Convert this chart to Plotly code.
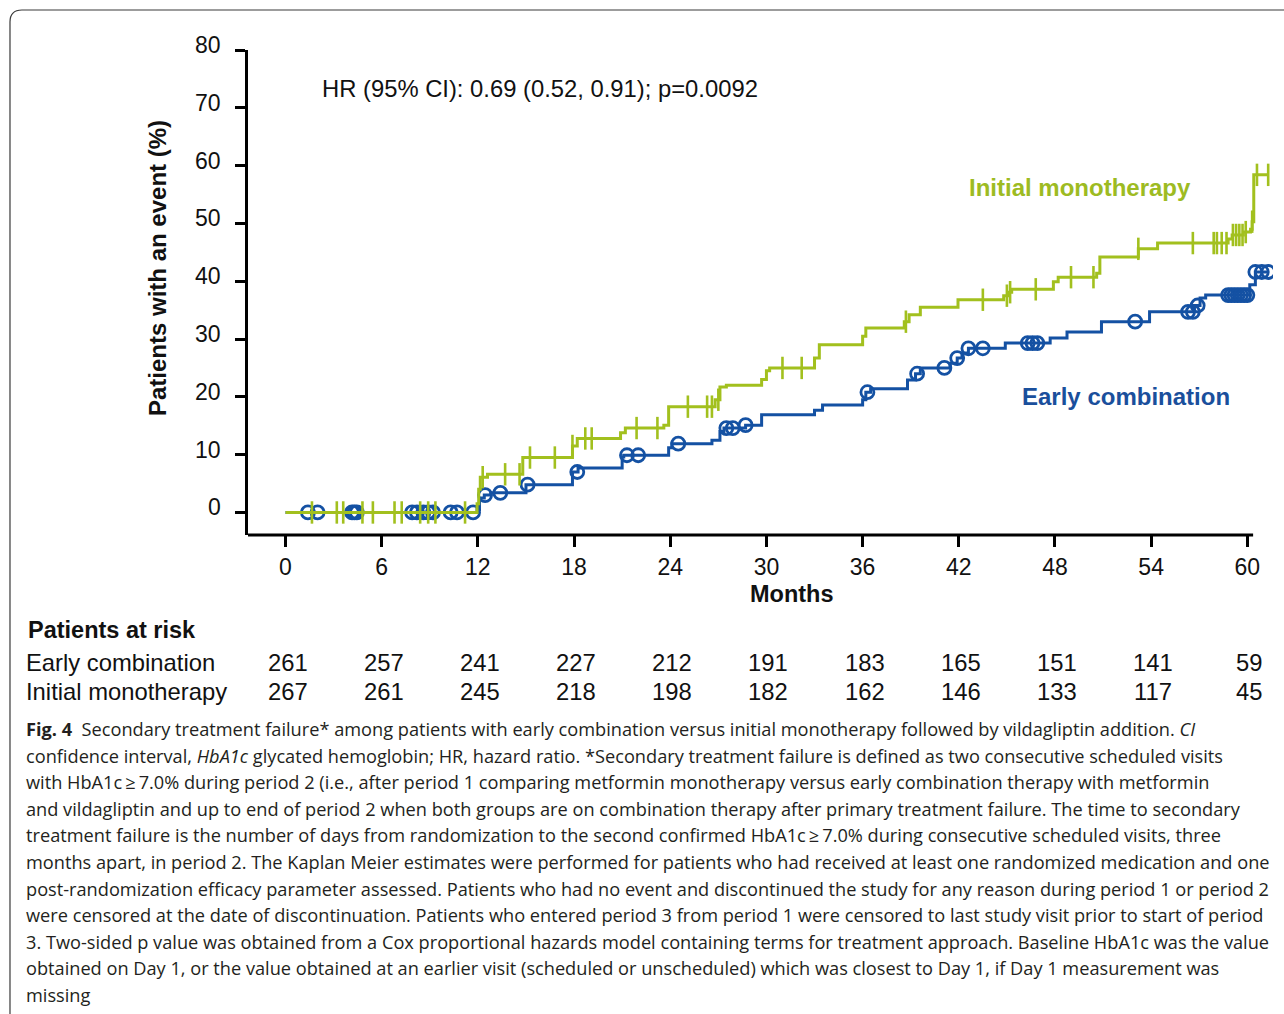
import plotly.graph_objects as go

# ---- data -------------------------------------------------------------
month_ticks = list(range(0, 61, 6))
pct_ticks = list(range(0, 81, 10))

# Kaplan-Meier step curves: event times (months) and cumulative % with an event
early_t = [0, 11.95, 12.1, 12.4, 12.8, 15.0, 17.9, 18.25, 21.0, 21.1, 23.9, 24.1,
           26.6, 27.1, 27.35, 28.7, 29.7, 33.0, 33.5, 36.0, 36.2, 36.5, 38.8, 39.3,
           39.6, 41.45, 41.9, 42.2, 42.6, 44.9, 47.7, 48.75, 50.9, 53.9, 56.7, 57.05,
           57.4, 60.15, 60.5]
early_pct = [0, 0.5, 2.5, 3.0, 3.4, 4.8, 7.0, 7.7, 9.6, 9.9, 11.2, 11.9,
             12.5, 14.0, 14.6, 15.1, 16.9, 17.7, 18.6, 19.5, 20.8, 21.4, 22.9, 24.0,
             25.0, 25.8, 26.7, 27.6, 28.4, 29.3, 30.2, 31.2, 33.0, 34.7, 35.8, 37.1,
             37.6, 39.4, 41.6]
early_censor = [1.4, 2.0, 4.15, 4.3, 4.45, 7.9, 8.2, 8.6, 8.9, 9.2, 10.3, 10.7, 11.7,
                12.45, 13.4, 15.1, 18.2, 21.3, 22.0, 24.5, 27.5, 27.9, 28.7, 36.3,
                39.4, 41.1, 41.9, 42.6, 43.5, 46.3, 46.6, 46.9, 53.0, 56.3, 56.6, 56.9,
                58.8, 59.0, 59.2, 59.4, 59.6, 59.8, 60.0, 60.5, 60.9, 61.3]

mono_t = [0, 11.95, 12.05, 12.15, 12.6, 14.8, 17.9, 18.2, 20.9, 21.2, 23.6, 23.9,
          26.8, 27.1, 27.5, 29.7, 30.0, 30.2, 33.0, 33.3, 36.0, 36.2, 38.6, 38.9,
          39.6, 41.95, 44.8, 45.1, 45.3, 47.9, 48.2, 50.6, 50.8, 53.2, 54.4, 58.8,
          59.05, 59.75, 60.2, 60.3, 60.4]
mono_pct = [0, 1.5, 4.0, 6.1, 6.6, 9.5, 11.5, 12.8, 13.8, 14.6, 15.1, 18.3,
            19.5, 21.7, 22.0, 23.0, 24.5, 25.0, 26.7, 29.0, 30.5, 31.9, 33.0, 34.2,
            35.5, 36.8, 37.5, 38.1, 38.6, 39.9, 40.7, 41.4, 44.2, 45.6, 46.6, 47.3,
            48.0, 48.5, 49.0, 50.3, 58.4]
mono_censor = [1.65, 3.2, 3.6, 4.8, 5.45, 6.8, 7.25, 8.4, 8.9, 9.35, 11.2, 12.3,
               13.7, 14.6, 15.25, 16.8, 17.9, 18.7, 19.1, 21.9, 23.2, 25.1, 26.3,
               26.6, 27.0, 31.0, 32.2, 38.7, 43.5, 45.0, 45.2, 46.8, 49.0, 50.4,
               53.2, 56.6, 57.9, 58.1, 58.4, 58.7, 59.1, 59.3, 59.5, 59.7, 59.9,
               60.3, 60.6, 61.3]

risk_early = [261, 257, 241, 227, 212, 191, 183, 165, 151, 141, 59]
risk_mono = [267, 261, 245, 218, 198, 182, 162, 146, 133, 117, 45]

caption_lines = [
    "<b>Fig. 4</b>  Secondary treatment failure* among patients with early combination versus initial monotherapy followed by vildagliptin addition. <i>CI</i>",
    "confidence interval, <i>HbA1c</i> glycated hemoglobin; HR, hazard ratio. *Secondary treatment failure is defined as two consecutive scheduled visits",
    "with HbA1c\u2009\u2265\u20097.0% during period 2 (i.e., after period 1 comparing metformin monotherapy versus early combination therapy with metformin",
    "and vildagliptin and up to end of period 2 when both groups are on combination therapy after primary treatment failure. The time to secondary",
    "treatment failure is the number of days from randomization to the second confirmed HbA1c\u2009\u2265\u20097.0% during consecutive scheduled visits, three",
    "months apart, in period 2. The Kaplan Meier estimates were performed for patients who had received at least one randomized medication and one",
    "post-randomization efficacy parameter assessed. Patients who had no event and discontinued the study for any reason during period 1 or period 2",
    "were censored at the date of discontinuation. Patients who entered period 3 from period 1 were censored to last study visit prior to start of period",
    "3. Two-sided p value was obtained from a Cox proportional hazards model containing terms for treatment approach. Baseline HbA1c was the value",
    "obtained on Day 1, or the value obtained at an earlier visit (scheduled or unscheduled) which was closest to Day 1, if Day 1 measurement was",
    "missing",
]

# ---- styling ----------------------------------------------------------
GREEN = "#a2c01e"
BLUE = "#1451a3"
FONT = "Liberation Sans, Arial, sans-serif"
INK = "#111"

W, H = 1284, 1014
L, T, B = 248, 50, 535          # plot-area edges in pixels
X_RANGE = [-2.34, 61.6]
X_AXIS_END = 60.36
Y_RANGE = [-3.9, 80]
PX_PER_MONTH = 16.03
R = L + (X_RANGE[1] - X_RANGE[0]) * PX_PER_MONTH


def px(x, y):
    """pixel position -> paper coordinates"""
    return (x - L) / (R - L), (B - y) / (B - T)


def step_value(times, values, t):
    v = values[0]
    for ti, vi in zip(times, values):
        if ti <= t:
            v = vi
    return v


def curve(times, values, end):
    return times + [end], values + [values[-1]]


fig = go.Figure()

# early combination (drawn first, monotherapy sits above it)
ex, ey = curve(early_t, early_pct, max(early_censor))
fig.add_trace(go.Scatter(x=ex, y=ey, mode="lines", line=dict(color=BLUE, width=3, shape="hv"),
                         hoverinfo="skip"))
fig.add_trace(go.Scatter(x=early_censor, y=[step_value(early_t, early_pct, t) for t in early_censor],
                         mode="markers",
                         marker=dict(symbol="circle-open", size=13, color=BLUE, line=dict(width=2.8, color=BLUE)),
                         hoverinfo="skip"))

mx, my = curve(mono_t, mono_pct, max(mono_censor))
fig.add_trace(go.Scatter(x=mx, y=my, mode="lines", line=dict(color=GREEN, width=3, shape="hv"),
                         hoverinfo="skip"))
fig.add_trace(go.Scatter(x=mono_censor, y=[step_value(mono_t, mono_pct, t) for t in mono_censor],
                         mode="markers",
                         marker=dict(symbol="line-ns-open", size=16, color=GREEN, line=dict(width=2.6, color=GREEN)),
                         hoverinfo="skip"))

fig.update_xaxes(range=X_RANGE, tickvals=month_ticks, ticks="outside", ticklen=11, tickwidth=3,
                 tickcolor="black", showgrid=False, zeroline=False, showline=False,
                 tickfont=dict(family=FONT, size=23, color=INK), ticklabelstandoff=0)
fig.update_yaxes(range=Y_RANGE, tickvals=pct_ticks, ticks="outside", ticklen=10, tickwidth=3,
                 tickcolor="black", showgrid=False, zeroline=False, showline=True, linewidth=3,
                 linecolor="black", showticklabels=False)

shapes = [
    # x axis line, stopping at the end of follow-up
    dict(type="line", xref="x", yref="paper", x0=X_RANGE[0], x1=X_AXIS_END, y0=0, y1=0,
         line=dict(color="black", width=3)),
]
# rounded frame around the figure panel
p0 = px(10, H)
p1 = px(10, 22)
pc = px(10, 10)
p2 = px(22, 10)
p3 = px(W + 5, 10)
shapes.append(dict(type="path", xref="paper", yref="paper",
                   path=f"M {p0[0]},{p0[1]} L {p1[0]},{p1[1]} Q {pc[0]},{pc[1]} {p2[0]},{p2[1]} L {p3[0]},{p3[1]}",
                   line=dict(color="#3a3a3a", width=1.2)))

ann = []

# y tick labels, sitting slightly above their ticks
for v in pct_ticks:
    ann.append(dict(xref="paper", yref="y", x=px(223, 0)[0], y=v, text=str(v), showarrow=False,
                    xanchor="right", yanchor="middle", yshift=5,
                    font=dict(family=FONT, size=23, color=INK)))


def text(x, y, s, size=24, color=INK, xanchor="center", bold=False, font=FONT, angle=0):
    ax, ay = px(x, y)
    ann.append(dict(xref="paper", yref="paper", x=ax, y=ay, text=f"<b>{s}</b>" if bold else s,
                    showarrow=False, xanchor=xanchor, yanchor="middle", textangle=angle,
                    font=dict(family=font, size=size, color=color)))


text(157, 268, "Patients with an event (%)", size=24, bold=True, angle=-90)
text(792, 594, "Months", size=23.5, bold=True)
text(320, 88, "HR (95% CI): 0.69 (0.52, 0.91); p=0.0092", size=23.8, xanchor="left")
text(1080, 187, "Initial monotherapy", size=24, color="#9dbb22", bold=True)
text(1126, 396, "Early combination", size=24, color="#1a4f9c", bold=True)

text(26, 630, "Patients at risk", size=23.5, bold=True, xanchor="left")
text(24, 662, "Early combination", size=23.8, xanchor="left")
text(24, 691, "Initial monotherapy", size=23.8, xanchor="left")
for m, a, b in zip(month_ticks, risk_early, risk_mono):
    for val, y in ((a, 662), (b, 691)):
        ann.append(dict(xref="x", yref="paper", x=m, y=px(0, y)[1], text=str(val), showarrow=False,
                        xanchor="center", yanchor="middle", xshift=2,
                        font=dict(family=FONT, size=23.8, color=INK)))

for i, line in enumerate(caption_lines):
    text(24, 729 + i * 26.6, line, size=18.2, color="#231f20", xanchor="left",
         font="Open Sans, Noto Sans, sans-serif")

fig.update_layout(width=W, height=H, margin=dict(l=L, r=W - R, t=T, b=H - B),
                  paper_bgcolor="white", plot_bgcolor="white", showlegend=False,
                  shapes=shapes, annotations=ann)

fig.write_html("out.html")
